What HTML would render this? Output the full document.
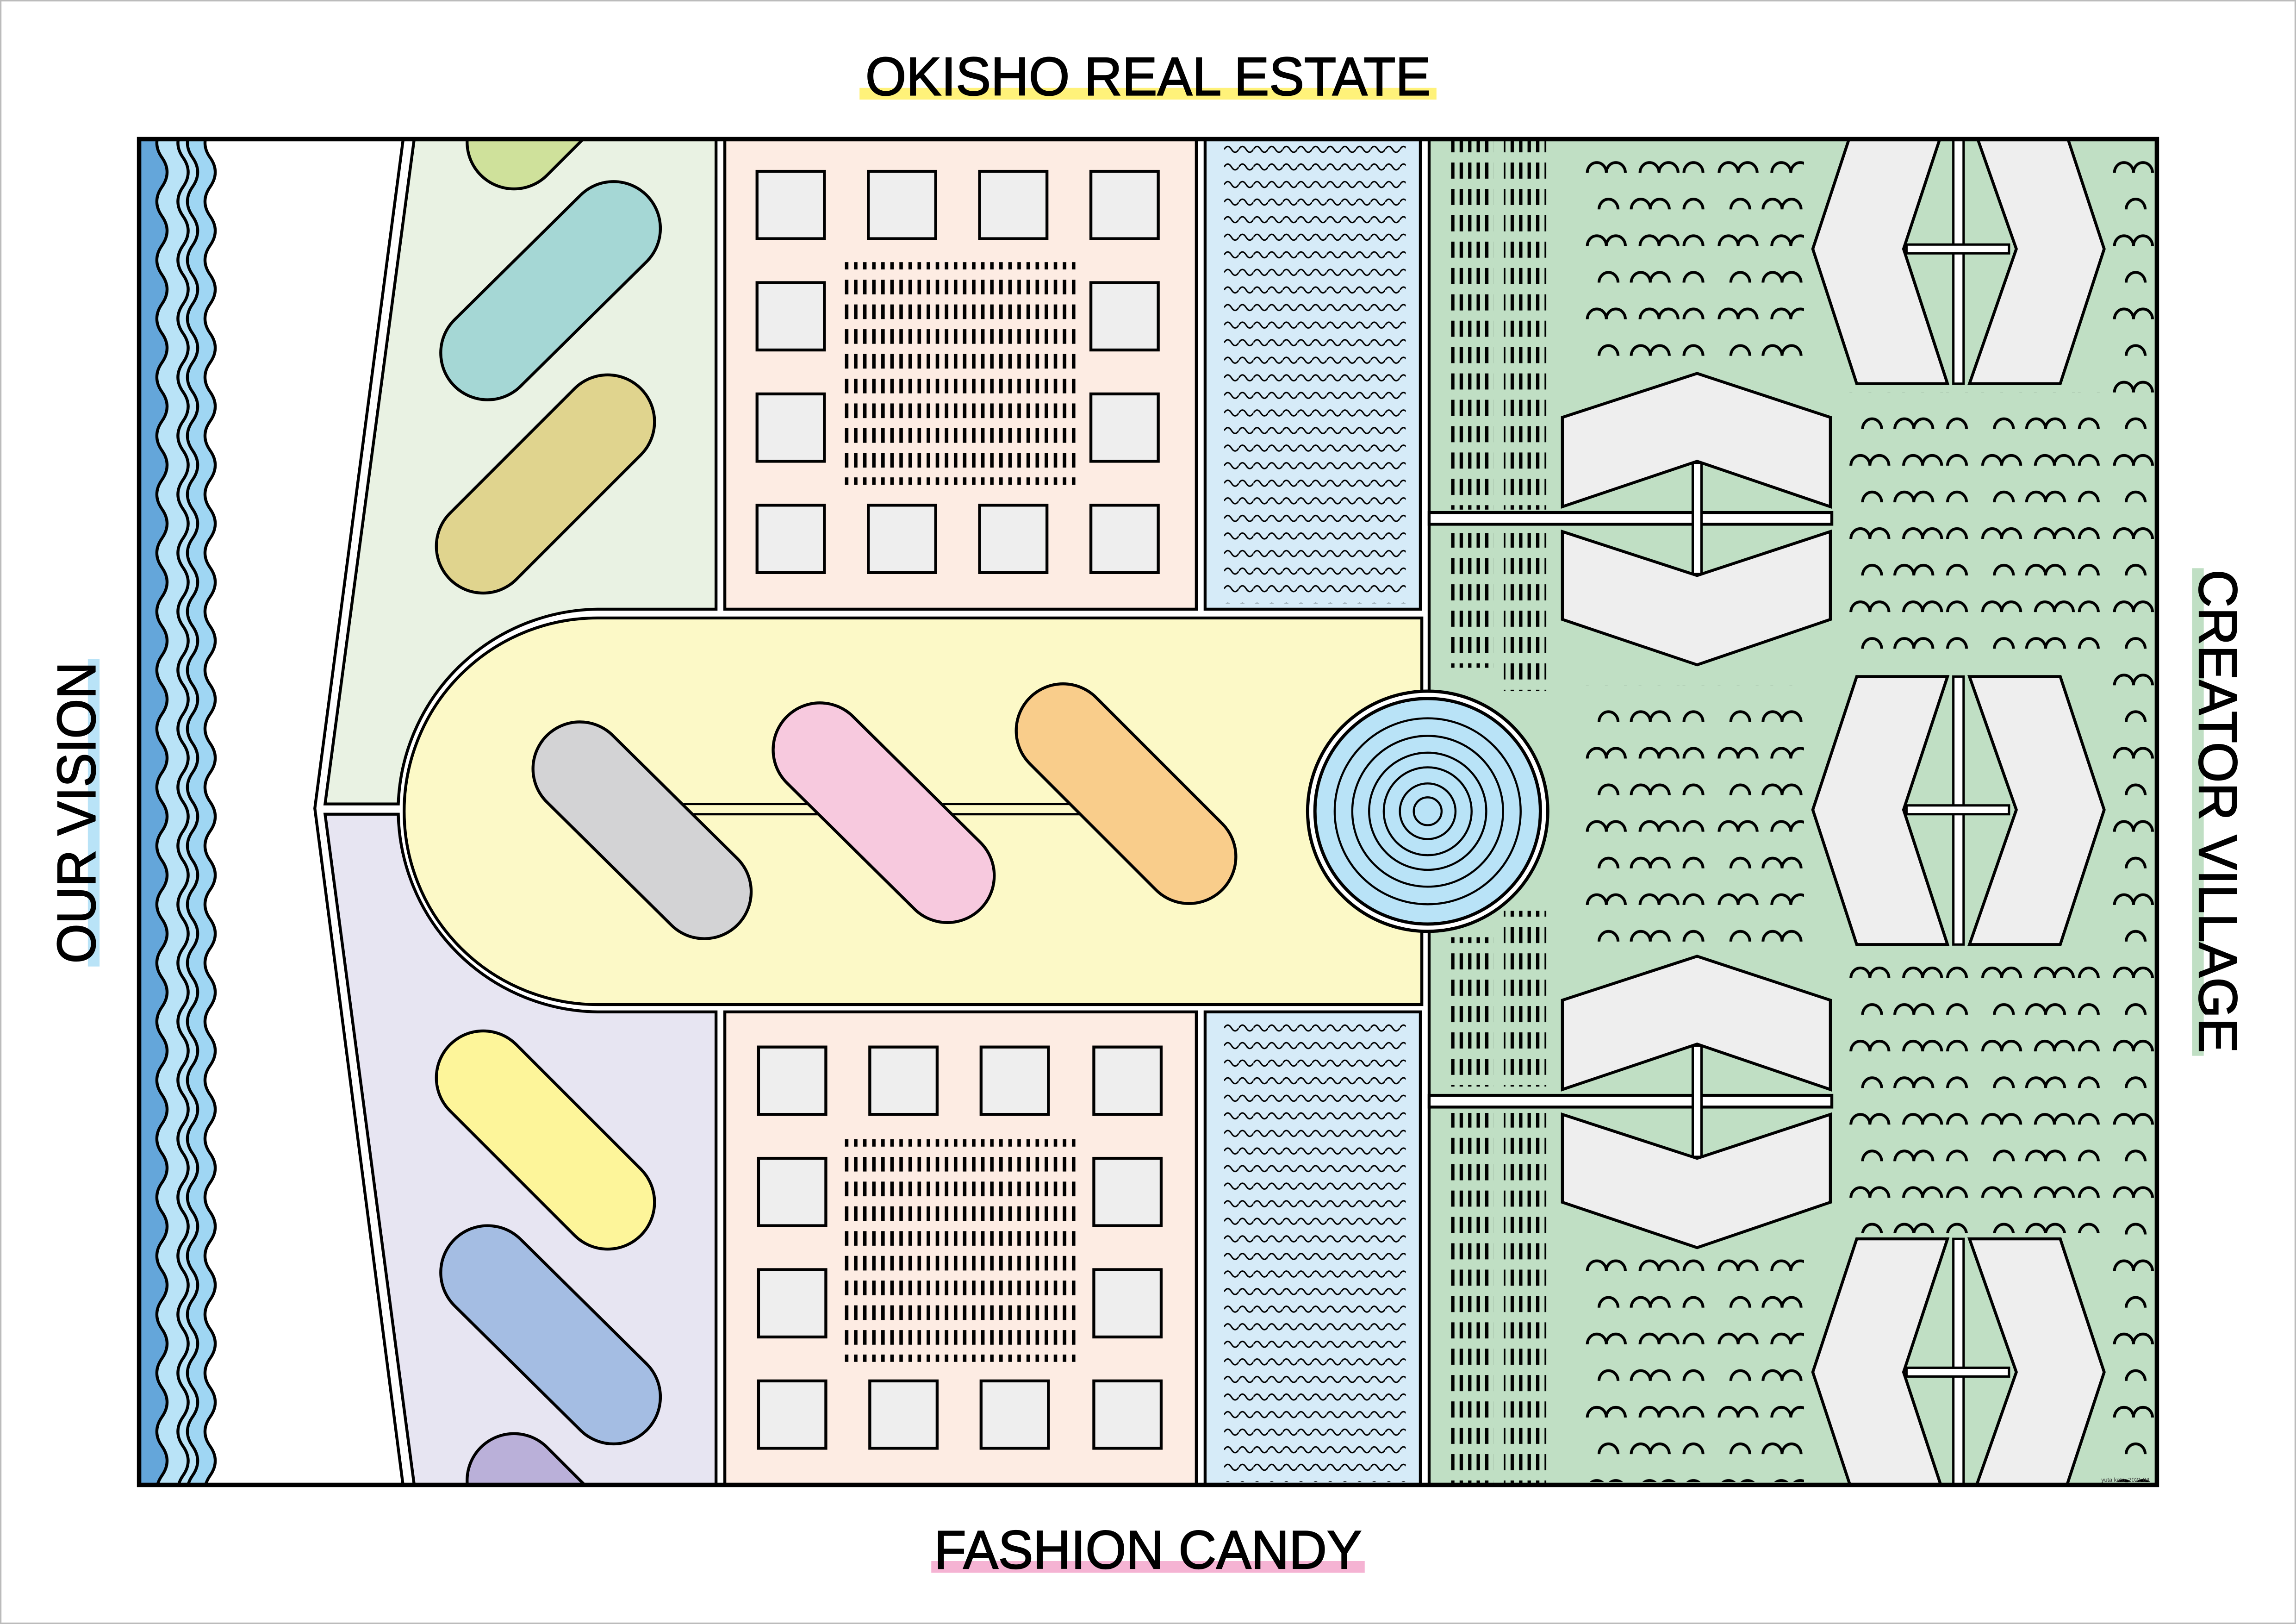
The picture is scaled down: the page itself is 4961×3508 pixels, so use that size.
<!DOCTYPE html>
<html><head><meta charset="utf-8"><style>
html,body{margin:0;padding:0;background:#fff;}
svg{display:block;}
text{font-family:"Liberation Sans",sans-serif;}
</style></head><body>
<svg width="4961" height="3508" viewBox="0 0 1568 1109" preserveAspectRatio="none" xmlns="http://www.w3.org/2000/svg">
<defs>
<clipPath id="fr"><rect x="95" y="95" width="1378" height="919"/></clipPath>
<pattern id="wave" x="836" y="96" width="10" height="12" patternUnits="userSpaceOnUse"><path d="M0 6 q2.5 -4 5 0 t5 0" fill="none" stroke="#000" stroke-width="1"/></pattern>
<pattern id="pdash" x="577" y="191" width="6.2" height="16.9" patternUnits="userSpaceOnUse"><rect x="0" y="0" width="2.4" height="10" fill="#000"/></pattern>
<pattern id="pdash2" x="577" y="790" width="6.2" height="16.9" patternUnits="userSpaceOnUse"><rect x="0" y="0" width="2.4" height="10" fill="#000"/></pattern>
<pattern id="pshort" x="577" y="0" width="6.2" height="400" patternUnits="userSpaceOnUse"><rect x="0" y="0" width="2.4" height="400" fill="#000"/></pattern>
<pattern id="gdash" x="991" y="0" width="5.8" height="18" patternUnits="userSpaceOnUse"><rect x="0" y="3" width="2.3" height="11" fill="#000"/></pattern>
<pattern id="bump" x="1080" y="100" width="90" height="50" patternUnits="userSpaceOnUse"><g fill="none" stroke="#000" stroke-width="1.9">
<path d="M4 18 a6.5 7 0 0 1 13 0 a6.5 7 0 0 1 13 0 M40 18 a6.5 7 0 0 1 13 0 a6.5 7 0 0 1 13 0 M70 18 a6.5 7 0 0 1 13 0"/>
<path d="M12 43 a6.5 7 0 0 1 13 0 M34 43 a6.5 7 0 0 1 13 0 a6.5 7 0 0 1 13 0 M70 43 a6.5 7 0 0 1 13 0"/></g></pattern>
</defs>
<rect x="0.5" y="0.5" width="1567" height="1108" fill="#fff" stroke="#bbb" stroke-width="1"/>

<g clip-path="url(#fr)">
<rect x="95" y="94" width="125" height="922" fill="#b9e3f7"/>
<path d="M131.5 67.6 q7 10 0 20 t0 20 t0 20 t0 20 t0 20 t0 20 t0 20 t0 20 t0 20 t0 20 t0 20 t0 20 t0 20 t0 20 t0 20 t0 20 t0 20 t0 20 t0 20 t0 20 t0 20 t0 20 t0 20 t0 20 t0 20 t0 20 t0 20 t0 20 t0 20 t0 20 t0 20 t0 20 t0 20 t0 20 t0 20 t0 20 t0 20 t0 20 t0 20 t0 20 t0 20 t0 20 t0 20 t0 20 t0 20 t0 20 t0 20 t0 20 t0 20 L220 1067.6 L220 67.6 Z" fill="#9fd6f3"/>
<path d="M143.5 67.6 q7 10 0 20 t0 20 t0 20 t0 20 t0 20 t0 20 t0 20 t0 20 t0 20 t0 20 t0 20 t0 20 t0 20 t0 20 t0 20 t0 20 t0 20 t0 20 t0 20 t0 20 t0 20 t0 20 t0 20 t0 20 t0 20 t0 20 t0 20 t0 20 t0 20 t0 20 t0 20 t0 20 t0 20 t0 20 t0 20 t0 20 t0 20 t0 20 t0 20 t0 20 t0 20 t0 20 t0 20 t0 20 t0 20 t0 20 t0 20 t0 20 t0 20 L230 1067.6 L230 67.6 Z" fill="#fff"/>
<path d="M143.5 67.6 q7 10 0 20 t0 20 t0 20 t0 20 t0 20 t0 20 t0 20 t0 20 t0 20 t0 20 t0 20 t0 20 t0 20 t0 20 t0 20 t0 20 t0 20 t0 20 t0 20 t0 20 t0 20 t0 20 t0 20 t0 20 t0 20 t0 20 t0 20 t0 20 t0 20 t0 20 t0 20 t0 20 t0 20 t0 20 t0 20 t0 20 t0 20 t0 20 t0 20 t0 20 t0 20 t0 20 t0 20 t0 20 t0 20 t0 20 t0 20 t0 20 t0 20 t0 20" fill="none" stroke="#000" stroke-width="2"/>
<path d="M110.6 67.6 q7 10 0 20 t0 20 t0 20 t0 20 t0 20 t0 20 t0 20 t0 20 t0 20 t0 20 t0 20 t0 20 t0 20 t0 20 t0 20 t0 20 t0 20 t0 20 t0 20 t0 20 t0 20 t0 20 t0 20 t0 20 t0 20 t0 20 t0 20 t0 20 t0 20 t0 20 t0 20 t0 20 t0 20 t0 20 t0 20 t0 20 t0 20 t0 20 t0 20 t0 20 t0 20 t0 20 t0 20 t0 20 t0 20 t0 20 t0 20 t0 20 t0 20 t0 20 L90 1067.6 L90 67.6 Z" fill="#64a6da" stroke="#000" stroke-width="2"/>
<path d="M125 67.6 q7 10 0 20 t0 20 t0 20 t0 20 t0 20 t0 20 t0 20 t0 20 t0 20 t0 20 t0 20 t0 20 t0 20 t0 20 t0 20 t0 20 t0 20 t0 20 t0 20 t0 20 t0 20 t0 20 t0 20 t0 20 t0 20 t0 20 t0 20 t0 20 t0 20 t0 20 t0 20 t0 20 t0 20 t0 20 t0 20 t0 20 t0 20 t0 20 t0 20 t0 20 t0 20 t0 20 t0 20 t0 20 t0 20 t0 20 t0 20 t0 20 t0 20 t0 20" fill="none" stroke="#000" stroke-width="2"/>
<path d="M131.5 67.6 q7 10 0 20 t0 20 t0 20 t0 20 t0 20 t0 20 t0 20 t0 20 t0 20 t0 20 t0 20 t0 20 t0 20 t0 20 t0 20 t0 20 t0 20 t0 20 t0 20 t0 20 t0 20 t0 20 t0 20 t0 20 t0 20 t0 20 t0 20 t0 20 t0 20 t0 20 t0 20 t0 20 t0 20 t0 20 t0 20 t0 20 t0 20 t0 20 t0 20 t0 20 t0 20 t0 20 t0 20 t0 20 t0 20 t0 20 t0 20 t0 20 t0 20 t0 20" fill="none" stroke="#000" stroke-width="2"/>

<path d="M276 90 L215 552 L276 1020" fill="none" stroke="#000" stroke-width="2"/>

<path d="M283 94 L489 94 L489 416 L408 416 A138 138 0 0 0 272 549 L222 549 Z" fill="#e9f2e3" stroke="#000" stroke-width="2"/>
<path d="M283 1015 L489 1015 L489 691 L408 691 A138 138 0 0 1 272 556 L222 556 Z" fill="#e7e5f2" stroke="#000" stroke-width="2"/>

<g stroke="#000" stroke-width="2" stroke-linecap="round">
<line x1="351" y1="97" x2="430" y2="18" stroke-width="66"/><line x1="351" y1="97" x2="430" y2="18" stroke="#cfe19b" stroke-width="62"/>
<line x1="333" y1="241" x2="419" y2="156" stroke-width="66"/><line x1="333" y1="241" x2="419" y2="156" stroke="#a5d7d5" stroke-width="62"/>
<line x1="330" y1="373" x2="415" y2="288" stroke-width="66"/><line x1="330" y1="373" x2="415" y2="288" stroke="#e0d48e" stroke-width="62"/>
<line x1="330" y1="736" x2="415" y2="821" stroke-width="66"/><line x1="330" y1="736" x2="415" y2="821" stroke="#fdf59a" stroke-width="62"/>
<line x1="333" y1="869" x2="419" y2="954" stroke-width="66"/><line x1="333" y1="869" x2="419" y2="954" stroke="#a4bde3" stroke-width="62"/>
<line x1="351" y1="1011" x2="430" y2="1090" stroke-width="66"/><line x1="351" y1="1011" x2="430" y2="1090" stroke="#bab0d9" stroke-width="62"/>
</g>

<path d="M971 422 L408 422 A132 132 0 0 0 408 686 L971 686 Z" fill="#fcf9c7" stroke="#000" stroke-width="2"/>
<line x1="465" y1="549" x2="740" y2="549" stroke="#000" stroke-width="1.6"/>
<line x1="465" y1="556" x2="740" y2="556" stroke="#000" stroke-width="1.6"/>
<g stroke="#000" stroke-width="2" stroke-linecap="round">
<line x1="396" y1="525" x2="481" y2="609" stroke-width="66"/><line x1="396" y1="525" x2="481" y2="609" stroke="#d3d3d5" stroke-width="62"/>
<line x1="560" y1="512" x2="647" y2="598" stroke-width="66"/><line x1="560" y1="512" x2="647" y2="598" stroke="#f7c9de" stroke-width="62"/>
<line x1="726" y1="499" x2="812" y2="585" stroke-width="66"/><line x1="726" y1="499" x2="812" y2="585" stroke="#f9cd8b" stroke-width="62"/>
</g>

<rect x="495" y="90" width="322" height="326" fill="#fdece3" stroke="#000" stroke-width="2"/>
<rect x="495" y="691" width="322" height="330" fill="#fdece3" stroke="#000" stroke-width="2"/>
<rect x="577" y="191" width="160" height="129" fill="url(#pdash)"/>
<rect x="577" y="179" width="160" height="5" fill="url(#pshort)"/>
<rect x="577" y="326" width="160" height="5" fill="url(#pshort)"/>
<rect x="577" y="790" width="160" height="129" fill="url(#pdash2)"/>
<rect x="577" y="778" width="160" height="5" fill="url(#pshort)"/>
<rect x="577" y="925" width="160" height="5" fill="url(#pshort)"/>
<g fill="#eeeeee" stroke="#000" stroke-width="2">
<rect x="517" y="117" width="46" height="46"/><rect x="593" y="117" width="46" height="46"/><rect x="669" y="117" width="46" height="46"/><rect x="745" y="117" width="46" height="46"/>
<rect x="517" y="193" width="46" height="46"/><rect x="745" y="193" width="46" height="46"/>
<rect x="517" y="269" width="46" height="46"/><rect x="745" y="269" width="46" height="46"/>
<rect x="517" y="345" width="46" height="46"/><rect x="593" y="345" width="46" height="46"/><rect x="669" y="345" width="46" height="46"/><rect x="745" y="345" width="46" height="46"/>
<rect x="518" y="715" width="46" height="46"/><rect x="594" y="715" width="46" height="46"/><rect x="670" y="715" width="46" height="46"/><rect x="747" y="715" width="46" height="46"/>
<rect x="518" y="791" width="46" height="46"/><rect x="747" y="791" width="46" height="46"/>
<rect x="518" y="867" width="46" height="46"/><rect x="747" y="867" width="46" height="46"/>
<rect x="518" y="943" width="46" height="46"/><rect x="594" y="943" width="46" height="46"/><rect x="670" y="943" width="46" height="46"/><rect x="747" y="943" width="46" height="46"/>
</g>

<rect x="823" y="90" width="147" height="326" fill="#d6ebf8" stroke="#000" stroke-width="2"/>
<rect x="823" y="691" width="147" height="330" fill="#d6ebf8" stroke="#000" stroke-width="2"/>
<rect x="836" y="96" width="124" height="316" fill="url(#wave)"/>
<rect x="836" y="696" width="124" height="316" fill="url(#wave)"/>

<rect x="976" y="90" width="500" height="930" fill="#c0dfc4" stroke="#000" stroke-width="2"/>
<g fill="url(#bump)">
<rect x="1080" y="100" width="152" height="148"/>
<rect x="1080" y="468" width="152" height="178"/>
<rect x="1080" y="860" width="152" height="152"/>
<rect x="1255" y="268" width="180" height="190"/>
<rect x="1255" y="652" width="180" height="190"/>
<rect x="1440" y="96" width="32" height="916"/>
</g>
<g fill="url(#gdash)">
<rect x="991" y="96" width="29" height="252"/><rect x="1027" y="96" width="29" height="252"/>
<rect x="991" y="364" width="29" height="92"/><rect x="1027" y="364" width="29" height="108"/>
<rect x="991" y="640" width="29" height="102"/><rect x="1027" y="622" width="29" height="120"/>
<rect x="991" y="760" width="29" height="254"/><rect x="1027" y="760" width="29" height="254"/>
</g>

<g>
<rect x="976" y="350" width="275" height="8" fill="#fff" stroke="#000" stroke-width="2"/>
<rect x="976" y="748" width="275" height="8" fill="#fff" stroke="#000" stroke-width="2"/>
<rect x="1156" y="316" width="6" height="76" fill="#fff" stroke="#000" stroke-width="1.6"/>
<rect x="1156" y="714" width="6" height="76" fill="#fff" stroke="#000" stroke-width="1.6"/>
<rect x="1157" y="351" width="4" height="6" fill="#fff"/>
<rect x="1157" y="749" width="4" height="6" fill="#fff"/>
</g>
<g fill="#eeeeee" stroke="#000" stroke-width="2">
<polygon points="1067,285 1159,255 1250,285 1250,346 1159,315 1067,346"/>
<polygon points="1067,363 1159,393 1250,363 1250,423 1159,454 1067,423"/>
<polygon points="1067,683 1159,653 1250,683 1250,744 1159,713 1067,744"/>
<polygon points="1067,761 1159,791 1250,761 1250,821 1159,852 1067,821"/>
</g>
<g fill="#fff" stroke="#000" stroke-width="1.6">
<rect x="1334" y="90" width="7" height="172"/>
<rect x="1302" y="167" width="70" height="6"/>
<rect x="1334" y="462" width="7" height="183"/>
<rect x="1302" y="550" width="70" height="6"/>
<rect x="1334" y="846" width="7" height="172"/>
<rect x="1302" y="934" width="70" height="6"/>
</g>
<g fill="#fff"><rect x="1335" y="168" width="5" height="4"/><rect x="1335" y="551" width="5" height="4"/><rect x="1335" y="935" width="5" height="4"/></g>
<g fill="#eeeeee" stroke="#000" stroke-width="2">
<polygon points="1268,79 1330,79 1300,170 1330,262 1268,262 1238,170"/>
<polygon points="1345,79 1407,79 1437,170 1407,262 1345,262 1377,170"/>
<polygon points="1268,462 1330,462 1300,553 1330,645 1268,645 1238,553"/>
<polygon points="1345,462 1407,462 1437,553 1407,645 1345,645 1377,553"/>
<polygon points="1268,846 1330,846 1300,937 1330,1028 1268,1028 1238,937"/>
<polygon points="1345,846 1407,846 1437,937 1407,1028 1345,1028 1377,937"/>
</g>

<circle cx="975" cy="554" r="82" fill="#fff" stroke="#000" stroke-width="2.2"/>
<circle cx="975" cy="554" r="77" fill="#b9e3f7" stroke="#000" stroke-width="2.2"/>
<g fill="none" stroke="#000" stroke-width="1.4">
<circle cx="975" cy="554" r="63.5"/><circle cx="975" cy="554" r="51.5"/><circle cx="975" cy="554" r="40"/>
<circle cx="975" cy="554" r="30"/><circle cx="975" cy="554" r="19"/><circle cx="975" cy="554" r="9.5"/>
</g>
<text x="1435" y="1012" font-size="4" fill="#333">yuta kato_2021.04</text>
</g>

<rect x="95" y="95" width="1378" height="919" fill="none" stroke="#000" stroke-width="3"/>

<g stroke="#000" stroke-width="0.7">
<rect x="587" y="60" width="394" height="8" fill="#fff27a" stroke="none"/>
<text x="784" y="65" font-size="37" text-anchor="middle" textLength="386" lengthAdjust="spacingAndGlyphs">OKISHO REAL ESTATE</text>
<rect x="636" y="1066" width="296" height="8" fill="#f5b3d3" stroke="none"/>
<text x="784" y="1071" font-size="37" text-anchor="middle" textLength="292" lengthAdjust="spacingAndGlyphs">FASHION CANDY</text>
<rect x="60" y="450" width="8" height="210" fill="#b9e3f7" stroke="none"/>
<text transform="translate(65,555) rotate(-90)" font-size="37" text-anchor="middle" textLength="206" lengthAdjust="spacingAndGlyphs">OUR VISION</text>
<rect x="1497" y="388" width="8" height="333" fill="#c0dfc4" stroke="none"/>
<text transform="translate(1502,554) rotate(90)" font-size="37" text-anchor="middle" textLength="330" lengthAdjust="spacingAndGlyphs">CREATOR VILLAGE</text>
</g>
</svg>
</body></html>
